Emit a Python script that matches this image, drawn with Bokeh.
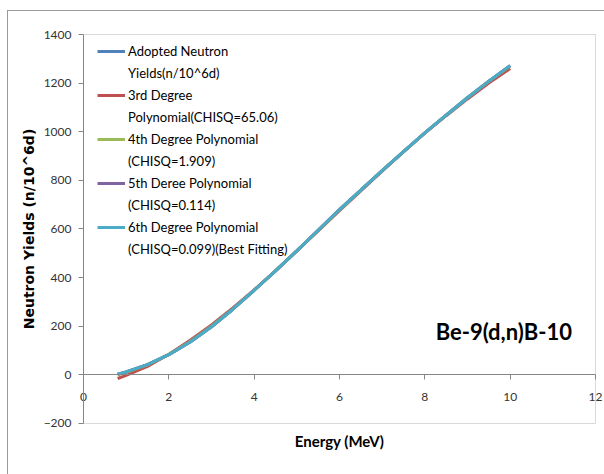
from bokeh.plotting import figure
from bokeh.models import (Range1d, LinearAxis, FixedTicker, Legend, LegendItem, Label, BoxAnnotation)
from bokeh.embed import file_html
from bokeh.resources import INLINE

# ---- data ----
energy = [0.8, 1.0, 1.5, 2.0, 2.5, 3.0, 3.5, 4.0, 4.5, 5.0, 5.5, 6.0, 6.5, 7.0, 7.5, 8.0, 8.5, 9.0, 9.5, 10.0]
adopted = [3, 12, 42, 83, 135, 198, 270, 348, 428, 510, 595, 680, 760, 840, 918, 995, 1068, 1140, 1208, 1272]
poly3 = [-15, -2, 35, 85, 142, 205, 275, 350, 428, 510, 592, 675, 757, 838, 917, 994, 1066, 1135, 1200, 1260]
poly4 = [0, 10, 41, 84, 137, 200, 271, 348, 428, 510, 594, 678, 760, 840, 918, 995, 1068, 1140, 1207, 1270]
poly5 = [2, 12, 42, 83, 135, 198, 270, 348, 428, 510, 595, 680, 760, 840, 918, 995, 1068, 1140, 1208, 1272]
poly6 = [3, 12, 42, 83, 135, 198, 270, 348, 428, 510, 595, 680, 760, 840, 918, 995, 1068, 1140, 1208, 1272]

series_labels = [
    ["Adopted Neutron", "Yields(n/10^6d)"],
    ["3rd Degree", "Polynomial(CHISQ=65.06)"],
    ["4th Degree Polynomial", "(CHISQ=1.909)"],
    ["5th Deree Polynomial", "(CHISQ=0.114)"],
    ["6th Degree Polynomial", "(CHISQ=0.099)(Best Fitting)"],
]
series_colors = ["#4F81BD", "#C0504D", "#9BBB59", "#8064A2", "#4BACC6"]
series_values = [adopted, poly3, poly4, poly5, poly6]

x_ticks = [0, 2, 4, 6, 8, 10, 12]
y_ticks = [-200, 0, 200, 400, 600, 800, 1000, 1200, 1400]
x_bounds = (0, 12)
y_bounds = (-200, 1400)

x_label = "Energy (MeV)"
y_label = "Neutron Yields (n/10^6d)"
reaction_text = "Be-9(d,n)B-10"

FONT = "Lato"
GRAY = "#868686"

# The frame spans almost the whole figure, so that the axes (drawn at fixed
# locations) and all their texts lie inside it and are never clipped.
p = figure(width=597, height=464, output_backend="svg", toolbar_location=None,
           x_range=Range1d(-1.711, 12.211), y_range=Range1d(-397.5, 1453.5),
           x_axis_location=None, y_axis_location=None,
           min_border_left=2, min_border_top=10, min_border_right=1, min_border_bottom=4)
p.margin = (10, 0, 0, 7)
p.styles = {"border-left": "1px solid #9a9a9a", "border-top": "1px solid #9a9a9a"}
p.xgrid.visible = False
p.ygrid.visible = False
p.outline_line_color = None
p.background_fill_color = "white"
p.border_fill_color = "white"

# plot-area box
p.add_layout(BoxAnnotation(left=x_bounds[0], right=x_bounds[1], bottom=y_bounds[0], top=y_bounds[1],
                           fill_alpha=0, line_color=GRAY, line_width=1))

# y axis at x = 0
ya = LinearAxis(fixed_location=0, ticker=FixedTicker(ticks=y_ticks), bounds=y_bounds)
ya.axis_label = y_label
ya.axis_label_text_font = "DejaVu Sans"
ya.axis_label_text_font_style = "bold"
ya.axis_label_text_font_size = "14px"
ya.axis_label_text_color = "#000000"
ya.axis_label_standoff = 4
ya.major_label_text_font = FONT
ya.major_label_text_font_size = "12px"
ya.major_label_text_color = "#333333"
ya.major_label_standoff = 7
ya.axis_line_color = GRAY
ya.major_tick_line_color = GRAY
ya.major_tick_out = 5
ya.major_tick_in = 0
ya.minor_tick_line_color = None
p.add_layout(ya, "left")

# x axis crossing at y = 0
xa = LinearAxis(fixed_location=0, ticker=FixedTicker(ticks=x_ticks), bounds=x_bounds)
xa.axis_line_color = GRAY
xa.major_tick_line_color = GRAY
xa.major_tick_out = 5
xa.major_tick_in = 0
xa.minor_tick_line_color = None
xa.major_label_text_font = FONT
xa.major_label_text_font_size = "12px"
xa.major_label_text_color = "#333333"
xa.major_label_standoff = 13
p.add_layout(xa, "below")

# x axis title under the bottom of the plot area
xt = LinearAxis(fixed_location=y_bounds[0], ticker=FixedTicker(ticks=[]), bounds=x_bounds,
                axis_label=x_label, axis_line_color=None, major_tick_line_color=None,
                minor_tick_line_color=None, axis_label_text_font=FONT,
                axis_label_text_font_style="bold", axis_label_text_font_size="15px",
                axis_label_text_color="#000000", axis_label_standoff=8)
p.add_layout(xt, "below")

items = []
for lbl, col, vals in zip(series_labels, series_colors, series_values):
    r = p.line(energy, vals, line_color=col, line_width=3)
    items.append(LegendItem(label=lbl[0], renderers=[r]))
    blank = p.line(x=[], y=[], line_alpha=0)
    items.append(LegendItem(label=lbl[1], renderers=[blank]))

legend = Legend(items=items, location=(87, 211), glyph_width=28, glyph_height=22,
                label_height=22, label_standoff=3, spacing=0, padding=0, margin=0,
                border_line_color=None, background_fill_alpha=0,
                label_text_font=FONT, label_text_font_size="13px", label_text_color="#000000")
p.add_layout(legend)

p.add_layout(Label(x=11.45, y=178, text=reaction_text, text_align="right", text_baseline="middle",
                   text_font=FONT, text_font_style="bold", text_font_size="22px", text_color="#000000"))

open("out.html", "w").write(file_html(p, INLINE))
